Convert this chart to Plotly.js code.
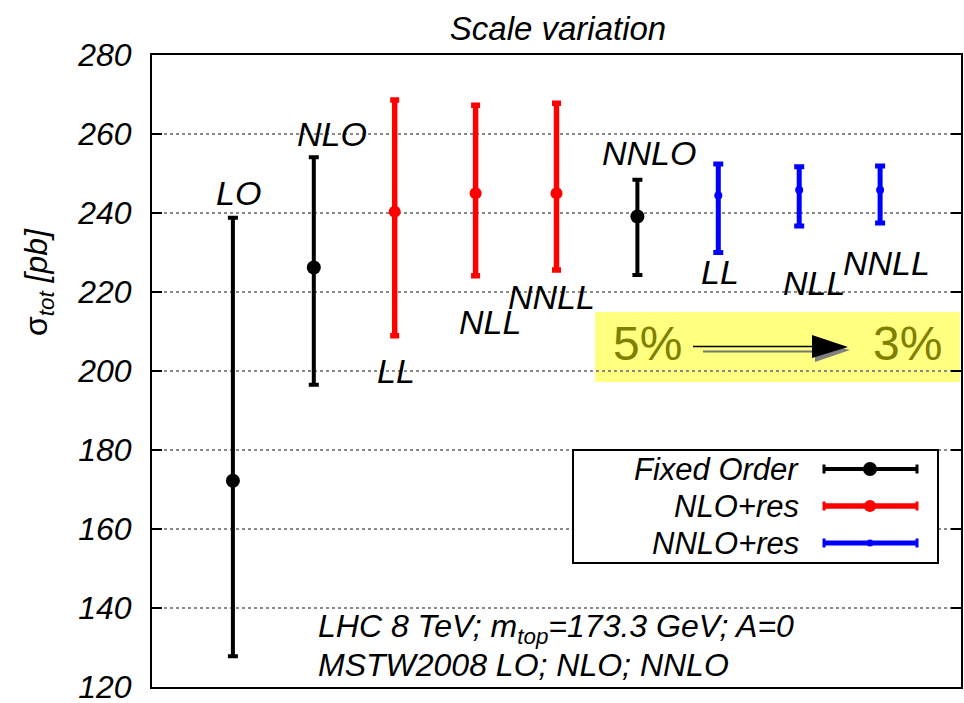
<!DOCTYPE html>
<html>
<head>
<meta charset="utf-8">
<script src="https://cdn.plot.ly/plotly-3.0.1.min.js"></script>
<style>
  html, body { margin: 0; padding: 0; background: #fff; }
  #chart { width: 964px; height: 703px; }
</style>
</head>
<body>
<div id="chart"></div>
<script>
// Total top-pair cross section, scale-variation bands, LHC 8 TeV
const fixedLabels = ['LO', 'NLO', 'NNLO'];
const fixedX      = [1, 2, 6];
const fixedY      = [172.2, 226.2, 239.1];
const fixedHi     = [238.8, 254.1, 248.4];
const fixedLo     = [127.8, 196.5, 224.3];

const nloResLabels = ['LL', 'NLL', 'NNLL'];
const nloResX      = [3, 4, 5];
const nloResY      = [240.3, 245.0, 245.0];
const nloResHi     = [268.6, 267.3, 267.8];
const nloResLo     = [208.9, 224.1, 225.6];

const nnloResLabels = ['LL', 'NLL', 'NNLL'];
const nnloResX      = [7, 8, 9];
const nnloResY      = [244.4, 245.8, 245.8];
const nnloResHi     = [252.4, 251.7, 251.9];
const nnloResLo     = [230.0, 236.7, 237.5];

const legendNames = ['Fixed Order', 'NLO+res', 'NNLO+res'];
const yTicks = [120, 140, 160, 180, 200, 220, 240, 260, 280];

// Plot geometry
const W = 964, H = 703;
const M = { l: 152, r: 3, t: 55, b: 16 };
const xRange = [0, 10], yRange = [120, 280];
const plotW = W - M.l - M.r, plotH = H - M.t - M.b;
// page pixel -> axis value helpers for decorations
const X = px => xRange[0] + (px - M.l) / plotW * (xRange[1] - xRange[0]);
const Y = py => yRange[1] - (py - M.t) / plotH * (yRange[1] - yRange[0]);
// page pixel -> paper fraction
const PX = px => (px - M.l) / plotW;
const PY = py => 1 - (py - M.t) / plotH;

const FONT = 'Liberation Sans, Arial, Helvetica, sans-serif';
const BLACK = '#000000', RED = '#ff0000', BLUE = '#0000ff';

function band(name, xs, ys, hi, lo, color, thick, capw, msize) {
  return {
    type: 'scatter', mode: 'markers', name: name, showlegend: false,
    x: xs, y: ys,
    marker: { color: color, size: msize, symbol: 'circle' },
    error_y: {
      type: 'data', symmetric: false,
      array: hi.map((v, i) => v - ys[i]),
      arrayminus: ys.map((v, i) => v - lo[i]),
      color: color, thickness: thick, width: capw
    },
    hoverinfo: 'x+y'
  };
}

const traces = [
  band(legendNames[0], fixedX, fixedY, fixedHi, fixedLo, BLACK, 4, 5, 14),
  band(legendNames[1], nloResX, nloResY, nloResHi, nloResLo, RED, 5.5, 4.5, 12),
  band(legendNames[2], nnloResX, nnloResY, nnloResHi, nnloResLo, BLUE, 5, 5, 8)
];

// Order labels next to each band
const labelFont = { family: FONT, size: 34, color: BLACK, style: 'italic' };
const orderLabels = [
  { text: fixedLabels[0],   px: 238, py: 193 },
  { text: fixedLabels[1],   px: 332, py: 134 },
  { text: nloResLabels[0],  px: 396, py: 371 },
  { text: nloResLabels[1],  px: 490, py: 322 },
  { text: nloResLabels[2],  px: 551, py: 297 },
  { text: fixedLabels[2],   px: 649, py: 153 },
  { text: nnloResLabels[0], px: 720, py: 272 },
  { text: nnloResLabels[1], px: 814, py: 283 },
  { text: nnloResLabels[2], px: 886, py: 263 }
];

const annotations = orderLabels.map(l => ({
  xref: 'x', yref: 'y', x: X(l.px), y: Y(l.py),
  text: l.text, showarrow: false, font: labelFont,
  xanchor: 'center', yanchor: 'middle'
}));

// uncertainty reduction highlight
const olive = '#7f7f00';
annotations.push(
  { xref: 'x', yref: 'y', x: X(647), y: Y(343), text: '5%', showarrow: false,
    font: { family: FONT, size: 48, color: olive }, xanchor: 'center', yanchor: 'middle' },
  { xref: 'x', yref: 'y', x: X(907), y: Y(343), text: '3%', showarrow: false,
    font: { family: FONT, size: 48, color: olive }, xanchor: 'center', yanchor: 'middle' }
);

// run conditions
const noteFont = { family: FONT, size: 32, color: BLACK, style: 'italic' };
annotations.push(
  { xref: 'x', yref: 'y', x: X(316), y: Y(628), xanchor: 'left', yanchor: 'middle',
    text: 'LHC 8 TeV; m<sub>top</sub>=173.3 GeV; A=0', showarrow: false, font: noteFont },
  { xref: 'x', yref: 'y', x: X(316), y: Y(665), xanchor: 'left', yanchor: 'middle',
    text: 'MSTW2008 LO; NLO; NNLO', showarrow: false, font: noteFont }
);

// y-axis title
annotations.push({
  xref: 'paper', yref: 'paper', x: PX(38), y: PY(282), textangle: -90,
  text: 'σ<sub><i>tot</i></sub><i> [pb]</i>', showarrow: false,
  font: { family: FONT, size: 32, color: BLACK }, xanchor: 'center', yanchor: 'middle'
});

// legend entries
const legendRows = [
  { name: legendNames[0], color: BLACK, py: 469, lw: 4, r: 7 },
  { name: legendNames[1], color: RED,   py: 506, lw: 5.5, r: 6 },
  { name: legendNames[2], color: BLUE,  py: 543, lw: 5, r: 3.5 }
];
legendRows.forEach(r => annotations.push({
  xref: 'paper', yref: 'paper', x: PX(801), y: PY(r.py), xanchor: 'right', yanchor: 'middle',
  text: r.name, showarrow: false, font: { family: FONT, size: 31, color: BLACK, style: 'italic' }
}));

const shapes = [
  // highlight box
  { type: 'rect', layer: 'below', xref: 'x', yref: 'y',
    x0: X(595), x1: X(960), y0: Y(382), y1: Y(312),
    fillcolor: '#ffff80', line: { width: 0 } },
  // arrow: double shaft with shaded head
  { type: 'line', xref: 'x', yref: 'y', x0: X(693), x1: X(815), y0: Y(346.5), y1: Y(346.5),
    line: { color: BLACK, width: 1.3 } },
  { type: 'line', xref: 'x', yref: 'y', x0: X(703), x1: X(815), y0: Y(351.5), y1: Y(351.5),
    line: { color: '#777777', width: 2 } },
  { type: 'path', xref: 'x', yref: 'y',
    path: `M ${X(815)},${Y(341)} L ${X(850)},${Y(350)} L ${X(815)},${Y(362)} Z`,
    fillcolor: '#808080', line: { width: 0 } },
  { type: 'path', xref: 'x', yref: 'y',
    path: `M ${X(812)},${Y(335)} L ${X(848)},${Y(347)} L ${X(812)},${Y(358)} Z`,
    fillcolor: BLACK, line: { width: 0 } },
  // legend frame
  { type: 'rect', xref: 'paper', yref: 'paper',
    x0: PX(573), x1: PX(938), y0: PY(563), y1: PY(450),
    fillcolor: '#ffffff', line: { color: BLACK, width: 2 } }
];

legendRows.forEach(r => {
  shapes.push(
    { type: 'line', xref: 'paper', yref: 'paper', x0: PX(823), x1: PX(918), y0: PY(r.py), y1: PY(r.py),
      line: { color: r.color, width: r.lw } },
    { type: 'line', xref: 'paper', yref: 'paper', x0: PX(824), x1: PX(824), y0: PY(r.py - 4.5), y1: PY(r.py + 4.5),
      line: { color: r.color, width: 3 } },
    { type: 'line', xref: 'paper', yref: 'paper', x0: PX(917), x1: PX(917), y0: PY(r.py - 4.5), y1: PY(r.py + 4.5),
      line: { color: r.color, width: 3 } },
    { type: 'circle', xref: 'paper', yref: 'paper',
      x0: PX(870 - r.r), x1: PX(870 + r.r), y0: PY(r.py + r.r), y1: PY(r.py - r.r),
      fillcolor: r.color, line: { width: 0 } }
  );
});

const layout = {
  width: W, height: H,
  margin: M,
  paper_bgcolor: '#ffffff', plot_bgcolor: '#ffffff',
  showlegend: false,
  title: {
    text: 'Scale variation', x: PX(558), xref: 'paper', xanchor: 'center',
    y: 1 - 28 / H, yref: 'container', yanchor: 'middle',
    font: { family: FONT, size: 33, color: BLACK, style: 'italic' }
  },
  xaxis: {
    range: xRange, showgrid: false, zeroline: false, showticklabels: false,
    ticks: '', showline: true, linecolor: BLACK, linewidth: 2, mirror: true, fixedrange: true
  },
  yaxis: {
    range: yRange, tickvals: yTicks, ticktext: yTicks.map(String),
    ticks: 'inside', ticklen: 10, tickwidth: 1.5, tickcolor: BLACK,
    showline: true, linecolor: BLACK, linewidth: 2, mirror: 'allticks',
    showgrid: true, gridcolor: '#8a8a8a', gridwidth: 1.2, griddash: 'dot',
    zeroline: false, ticklabelstandoff: 12, ticklabeloverflow: 'allow',
    tickfont: { family: FONT, size: 32, color: BLACK, style: 'italic' },
    fixedrange: true
  },
  annotations: annotations,
  shapes: shapes
};

Plotly.newPlot('chart', traces, layout, { displayModeBar: false, staticPlot: true });
</script>
</body>
</html>
